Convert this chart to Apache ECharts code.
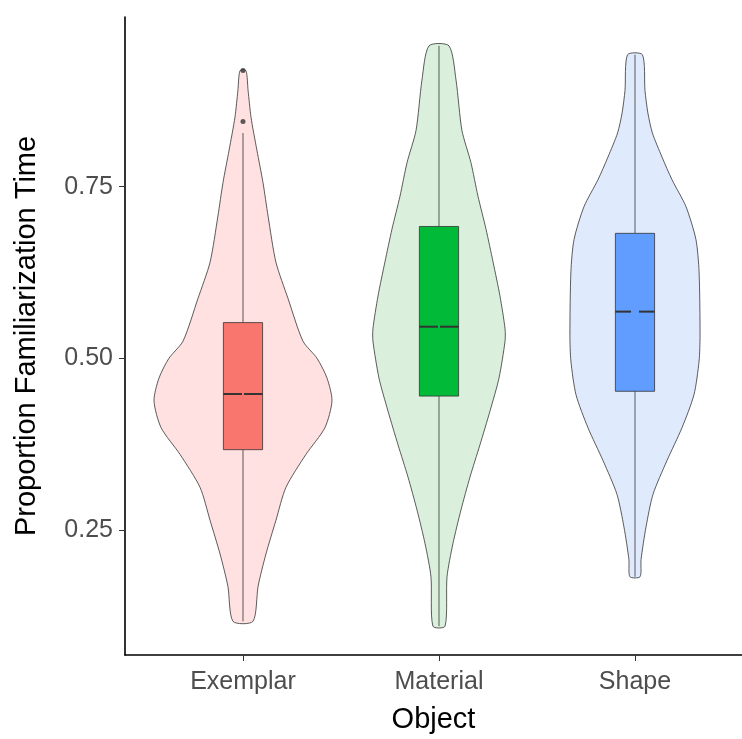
<!DOCTYPE html>
<html lang="en">
<head>
    <meta charset="UTF-8">
    <title>Proportion Familiarization Time</title>
    <script src="https://cdn.jsdelivr.net/npm/echarts@6/dist/echarts.min.js"></script>
    <style>
        html, body {
            margin: 0;
            padding: 0;
            background: #fff;
        }
    </style>
</head>
<body style="overflow: hidden">
<div id="chart" style="width: 742px;height: 739px"></div>
<script>
    var categories = ['Exemplar', 'Material', 'Shape'];
    var yTicks = [0.25, 0.50, 0.75];

    // violin outlines: value levels and half widths (x units), bottom to top
    var exemplarLevels = [0.117, 0.168, 0.215, 0.264, 0.312, 0.360, 0.399, 0.438, 0.471, 0.500, 0.525, 0.587, 0.640, 0.707, 0.756, 0.803, 0.851, 0.890, 0.919];
    var exemplarWidths = [0.051, 0.077, 0.117, 0.168, 0.219, 0.321, 0.418, 0.454, 0.429, 0.378, 0.306, 0.230, 0.168, 0.128, 0.102, 0.071, 0.041, 0.026, 0.015];

    var materialLevels = [0.110, 0.182, 0.230, 0.279, 0.327, 0.374, 0.423, 0.471, 0.525, 0.543, 0.591, 0.640, 0.688, 0.736, 0.785, 0.832, 0.905, 0.955];
    var materialWidths = [0.031, 0.041, 0.071, 0.112, 0.158, 0.209, 0.260, 0.306, 0.337, 0.337, 0.311, 0.276, 0.240, 0.199, 0.163, 0.117, 0.087, 0.051];

    var shapeLevels = [0.182, 0.207, 0.254, 0.302, 0.351, 0.399, 0.447, 0.496, 0.533, 0.626, 0.673, 0.721, 0.760, 0.793, 0.828, 0.857, 0.890, 0.942];
    var shapeWidths = [0.026, 0.031, 0.056, 0.092, 0.163, 0.240, 0.301, 0.327, 0.332, 0.327, 0.311, 0.260, 0.189, 0.138, 0.089, 0.066, 0.051, 0.038];

    // box stats: low whisker, q1, median, q3, high whisker
    var boxStats = [
        [0.117, 0.367, 0.448, 0.552, 0.828],
        [0.110, 0.445, 0.546, 0.692, 0.955],
        [0.182, 0.452, 0.568, 0.682, 0.942]
    ];
    var outliers = [[1, 0.845], [1, 0.919]];

    var violinFill = ['#FEE1E0', '#DAF0DC', '#DFEAFD'];
    var boxFill = ['#F8766D', '#00BA38', '#619CFF'];
    var violins = [
        [exemplarLevels, exemplarWidths],
        [materialLevels, materialWidths],
        [shapeLevels, shapeWidths]
    ];
    var medianGap = [2, 2, 8];

    function renderViolin(params, api) {
        var i = params.dataIndex;
        var x = i + 1;
        var lv = violins[i][0], wd = violins[i][1];
        var pts = [];
        for (var k = 0; k < lv.length; k++) {
            pts.push(api.coord([x + wd[k], lv[k]]));
        }
        for (var k = lv.length - 1; k >= 0; k--) {
            pts.push(api.coord([x - wd[k], lv[k]]));
        }
        return {
            type: 'polygon',
            shape: {points: pts, smooth: 0.25},
            style: {fill: violinFill[i], stroke: '#333333', lineWidth: 0.8}
        };
    }

    function renderBox(params, api) {
        var i = params.dataIndex;
        var x = i + 1;
        var s = boxStats[i];
        var half = 0.1;
        var lo = api.coord([x, s[0]]);
        var q1 = api.coord([x - half, s[1]]);
        var q3 = api.coord([x + half, s[3]]);
        var med = api.coord([x, s[2]]);
        var hi = api.coord([x, s[4]]);
        var line = {stroke: '#333333', lineWidth: 0.8};
        var g = medianGap[i] / 2;
        return {
            type: 'group',
            children: [
                {type: 'line', shape: {x1: lo[0], y1: lo[1], x2: lo[0], y2: q1[1]}, style: line},
                {type: 'line', shape: {x1: hi[0], y1: hi[1], x2: hi[0], y2: q3[1]}, style: line},
                {
                    type: 'rect',
                    shape: {x: q1[0], y: q3[1], width: q3[0] - q1[0], height: q1[1] - q3[1]},
                    style: {fill: boxFill[i], stroke: '#333333', lineWidth: 0.8}
                },
                {type: 'line', shape: {x1: q1[0], y1: med[1], x2: med[0] - g, y2: med[1]}, style: {stroke: '#333333', lineWidth: 2}},
                {type: 'line', shape: {x1: med[0] + g, y1: med[1], x2: q3[0], y2: med[1]}, style: {stroke: '#333333', lineWidth: 2}}
            ]
        };
    }

    var myChart = echarts.init(document.getElementById('chart'));
    myChart.setOption({
        animation: false,
        backgroundColor: '#ffffff',
        textStyle: {fontFamily: 'Liberation Sans'},
        grid: {left: 125, right: 0, top: 17, bottom: 78, containLabel: false},
        xAxis: {
            type: 'value',
            min: 0.398,
            max: 3.546,
            name: 'Object',
            nameLocation: 'middle',
            nameGap: 50,
            nameTextStyle: {color: '#000000', fontSize: 29},
            axisLine: {show: true, lineStyle: {color: '#000000', width: 1.6}},
            axisTick: {show: true, customValues: [1, 2, 3], length: 6, lineStyle: {color: '#333333'}},
            axisLabel: {
                customValues: [1, 2, 3],
                color: '#4D4D4D',
                fontSize: 25,
                margin: 15,
                formatter: function (v) {
                    return categories[Math.round(v) - 1];
                }
            },
            splitLine: {show: false}
        },
        yAxis: {
            type: 'value',
            min: 0.068,
            max: 0.997,
            name: 'Proportion Familiarization Time',
            nameLocation: 'middle',
            nameGap: 84,
            nameTextStyle: {color: '#000000', fontSize: 29},
            axisLine: {show: true, lineStyle: {color: '#000000', width: 1.6}},
            axisTick: {show: true, customValues: yTicks, length: 6, lineStyle: {color: '#333333'}},
            axisLabel: {
                customValues: yTicks,
                color: '#4D4D4D',
                fontSize: 25,
                margin: 12,
                formatter: function (v) {
                    return v.toFixed(2);
                }
            },
            splitLine: {show: false}
        },
        series: [
            {type: 'custom', renderItem: renderViolin, data: [1, 2, 3], silent: true, clip: false},
            {type: 'custom', renderItem: renderBox, data: [1, 2, 3], silent: true, clip: false},
            {
                type: 'scatter',
                data: outliers,
                symbolSize: 5,
                itemStyle: {color: '#333333'},
                silent: true
            }
        ]
    });
</script>
</body>
</html>
